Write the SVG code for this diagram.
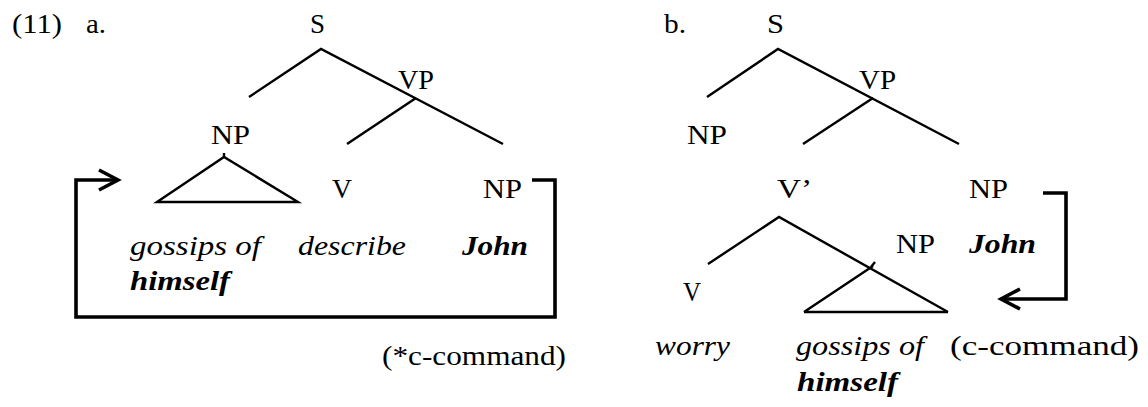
<svg xmlns="http://www.w3.org/2000/svg" width="1148" height="407" viewBox="0 0 1148 407">
  <defs>
    <style>
      .t { font-family: 'Liberation Serif', 'Times New Roman', Times, serif; font-size: 27px; fill: #000; }
      .it { font-style: italic; }
      .bi { font-style: italic; font-weight: bold; }
      .branch { stroke: #000; stroke-width: 2.4; fill: none; stroke-linecap: butt; }
      .link { stroke: #000; stroke-width: 3.6; fill: none; stroke-linejoin: miter; }
    </style>
    <marker id="chevron" markerUnits="userSpaceOnUse" markerWidth="30" markerHeight="30" refX="0" refY="0" orient="auto" overflow="visible">
      <path d="M-19,-10 L0,0 L-19,10" fill="none" stroke="#000" stroke-width="3.6" stroke-linejoin="miter"/>
    </marker>
  </defs>

  <rect width="1148" height="407" fill="#fff"/>

  <g class="t" font-family="Liberation Serif, serif" font-size="27">
    <!-- example number and panel labels -->
    <g id="labels">
      <text x="12" y="33" textLength="50" lengthAdjust="spacingAndGlyphs">(11)</text>
      <text x="86" y="33" textLength="20" lengthAdjust="spacingAndGlyphs">a.</text>
      <text x="664" y="33" textLength="22" lengthAdjust="spacingAndGlyphs">b.</text>
    </g>

    <!-- tree (a) nodes -->
    <g id="a-S"><text x="310" y="33" textLength="15" lengthAdjust="spacingAndGlyphs">S</text></g>
    <g id="a-VP"><text x="398" y="89" textLength="36" lengthAdjust="spacingAndGlyphs">VP</text></g>
    <g id="a-NP-subj"><text x="211" y="144" textLength="39" lengthAdjust="spacingAndGlyphs">NP</text></g>
    <g id="a-V"><text x="332" y="198" textLength="20" lengthAdjust="spacingAndGlyphs">V</text></g>
    <g id="a-NP-obj"><text x="483" y="198" textLength="39" lengthAdjust="spacingAndGlyphs">NP</text></g>
    <g id="a-words">
      <text class="it" x="130" y="255" textLength="131" lengthAdjust="spacingAndGlyphs">gossips of</text>
      <text class="bi" x="130" y="290" textLength="100" lengthAdjust="spacingAndGlyphs">himself</text>
      <text class="it" x="298" y="255" textLength="108" lengthAdjust="spacingAndGlyphs">describe</text>
      <text class="bi" x="462" y="255" textLength="66" lengthAdjust="spacingAndGlyphs">John</text>
    </g>
    <g id="a-note"><text x="382" y="365" textLength="184" lengthAdjust="spacingAndGlyphs">(*c-command)</text></g>

    <!-- tree (b) nodes -->
    <g id="b-S"><text x="767" y="33" textLength="17" lengthAdjust="spacingAndGlyphs">S</text></g>
    <g id="b-VP"><text x="859" y="89" textLength="37" lengthAdjust="spacingAndGlyphs">VP</text></g>
    <g id="b-NP-subj"><text x="687" y="144" textLength="40" lengthAdjust="spacingAndGlyphs">NP</text></g>
    <g id="b-Vbar"><text x="777" y="198" textLength="35" lengthAdjust="spacingAndGlyphs">V’</text></g>
    <g id="b-NP-obj"><text x="969" y="198" textLength="39" lengthAdjust="spacingAndGlyphs">NP</text></g>
    <g id="b-NP-inner"><text x="896" y="253" textLength="39" lengthAdjust="spacingAndGlyphs">NP</text></g>
    <g id="b-John"><text class="bi" x="969" y="253" textLength="67" lengthAdjust="spacingAndGlyphs">John</text></g>
    <g id="b-V"><text x="683" y="301" textLength="18" lengthAdjust="spacingAndGlyphs">V</text></g>
    <g id="b-words">
      <text class="it" x="655" y="355" textLength="75" lengthAdjust="spacingAndGlyphs">worry</text>
      <text class="it" x="796" y="355" textLength="128" lengthAdjust="spacingAndGlyphs">gossips of</text>
      <text class="bi" x="797" y="391" textLength="101" lengthAdjust="spacingAndGlyphs">himself</text>
    </g>
    <g id="b-note"><text x="950" y="355" textLength="189" lengthAdjust="spacingAndGlyphs">(c-command)</text></g>
  </g>

  <!-- branches and binding arrows -->
  <g id="connectors">
    <!-- tree (a) -->
    <path class="branch" d="M249,97 L321,49 L503,144"/>
    <path class="branch" d="M347,144 L416,98"/>
    <path class="branch" d="M157,202 L224,157 L298,202 Z"/>
    <path class="branch" d="M224,153 L224,158"/>
    <path class="link" d="M532,180 L555,180 L555,317 L76,317 L76,180 L118,180" marker-end="url(#chevron)"/>

    <!-- tree (b) -->
    <path class="branch" d="M707,97 L778,49 L959,144"/>
    <path class="branch" d="M803,144 L873,98"/>
    <path class="branch" d="M708,264 L779,217 L948,312"/>
    <path class="branch" d="M804,312 L873,266 M804,312 L948,312"/>
    <path class="branch" d="M871,267 L875,262"/>
    <path class="link" d="M1043,193 L1066,193 L1066,299 L1001,299" marker-end="url(#chevron)"/>
  </g>
</svg>
